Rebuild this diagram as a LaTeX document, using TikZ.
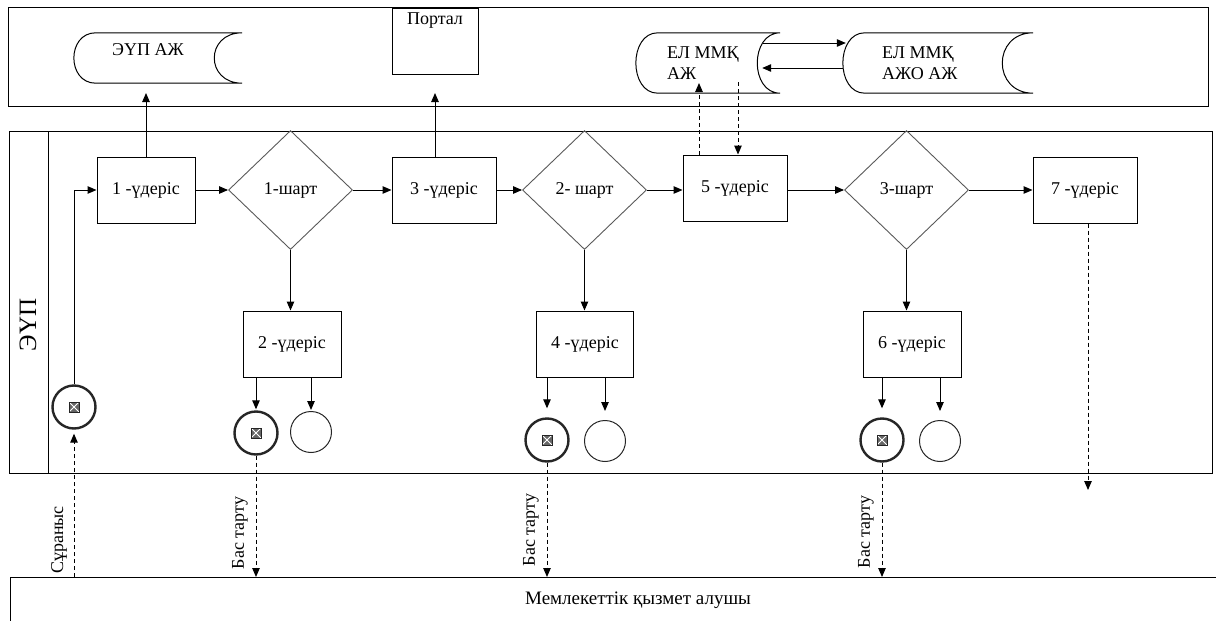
\documentclass[tikz,border=0pt]{standalone}
\usepackage{fontspec}
\setmainfont{Liberation Serif}
\usetikzlibrary{shapes.geometric,arrows.meta,calc}
\newcommand\fs{\fontsize{18}{21}\selectfont}
\newcommand\dstore[3]{%
  \draw[line] ($(#1.north west)+(#2,0)$) -- (#1.north east)
    .. controls ($(#1.north east)+(-1.33*#3,0)$) and ($(#1.south east)+(-1.33*#3,0)$) .. (#1.south east)
    -- ($(#1.south west)+(#2,0)$)
    .. controls ($(#1.south west)+(-0.33*#2,0)$) and ($(#1.north west)+(-0.33*#2,0)$) .. ($(#1.north west)+(#2,0)$) -- cycle;}
\begin{document}
\begin{tikzpicture}[x=1pt,y=-1pt,
  line/.style={line width=1pt,draw=black},
  arr/.style={line width=1pt,-{Triangle[length=9pt,width=7.5pt]}},
  darr/.style={arr,dash pattern=on 4pt off 3pt},
  proc/.style={draw,line width=1pt,rectangle,minimum height=66pt,inner sep=2pt,font=\fs},
  cond/.style={draw=black!65,line width=0.9pt,diamond,minimum width=124pt,minimum height=119pt,inner sep=0pt,font=\fs},
  endx/.style={circle,draw=black!85,line width=2.4pt,minimum size=43pt,inner sep=0pt},
  endo/.style={circle,draw=black!85,line width=1pt,minimum size=41pt,inner sep=0pt},
  xsq/.style={draw=black!85,line width=0.6pt,fill=black!60,minimum size=10pt,inner sep=0pt,
    path picture={\draw[white,line width=0.9pt] (path picture bounding box.south west) -- (path picture bounding box.north east)
      (path picture bounding box.north west) -- (path picture bounding box.south east);}},
  store/.style={inner sep=0pt},
  lbl/.style={font=\fs,inner sep=0pt},
]
\useasboundingbox (0,0) rectangle (1216,621);
% frames
\draw[line] (8,7) rectangle (1208,106);
\draw[line] (9,131) rectangle (1212,473);
\draw[line] (48,131) -- (48,473);
\draw[line] (10,621) -- (10,577) -- (1216,577);
\coordinate (cltop) at (0,577);
\node[font=\fontsize{25}{30}\selectfont,rotate=90,inner sep=0pt] (lane) at (28,325) {ЭҮП};
\node[font=\fontsize{19}{22}\selectfont,inner sep=0pt] (client) at (638,600) {Мемлекеттік қызмет алушы};

% top stores
\node[store,minimum width=168pt,minimum height=50pt] (eup) at (158,58) {};
\dstore{eup}{22}{28}
\node[lbl] (eupt) at (148,50) {ЭҮП АЖ};
\node[draw,line width=1pt,minimum width=86pt,minimum height=66pt,inner sep=0pt] (portal) at (435,41) {};
\node[lbl] (portalt) at (435,21) {Портал};
\node[store,minimum width=144pt,minimum height=60pt] (el) at (708,63) {};
\dstore{el}{22}{23}
\node[lbl,align=left,anchor=west] (elt) at (667,63) {ЕЛ ММҚ\\АЖ};
\node[store,minimum width=190pt,minimum height=60pt] (elo) at (938,63) {};
\dstore{elo}{22}{31}
\node[lbl,align=left,anchor=west] (elot) at (882,63) {ЕЛ ММҚ\\АЖО АЖ};
\draw[arr] ($(el.east)+(-17,-20)$) -- ($(elo.west)+(3,-20)$);
\draw[arr] ($(elo.west)+(0,5)$) -- ($(el.east)+(-18,5)$);

% main flow
\node[proc,minimum width=98pt] (p1) at (146,190) {1 -үдеріс};
\node[cond] (d1) at (290.5,190) {1-шарт};
\node[proc,minimum width=104pt] (p3) at (444,190) {3 -үдеріс};
\node[cond] (d2) at (584.5,190) {2- шарт};
\node[proc,minimum width=104pt] (p5) at (735,188) {5 -үдеріс};
\node[cond] (d3) at (906.5,190) {3-шарт};
\node[proc,minimum width=104pt] (p7) at (1085,190) {7 -үдеріс};
\node[proc,minimum width=98pt] (p2) at (292,344) {2 -үдеріс};
\node[proc,minimum width=97pt] (p4) at (585,344) {4 -үдеріс};
\node[proc,minimum width=98pt] (p6) at (912,344) {6 -үдеріс};

\draw[arr] (p1) -- (d1);
\draw[arr] (d1) -- (p3);
\draw[arr] (p3) -- (d2);
\draw[arr] (d2.east) -- (d2.east -| p5.west);
\draw[arr] (p5.east |- d3.west) -- (d3.west);
\draw[arr] (d3) -- (p7);
\draw[arr] (d1.south) -- (d1.south |- p2.north);
\draw[arr] (d2.south) -- (d2.south |- p4.north);
\draw[arr] (d3.south) -- (d3.south |- p6.north);

% links to top
\coordinate (eupin) at (146,93);
\draw[arr] (p1.north) -- (eupin);
\coordinate (portin) at (435,93);
\draw[arr] (p3.north -| portin) -- (portin);
\coordinate (elin) at (699,83);
\draw[darr] (p5.north -| elin) -- (elin);
\coordinate (elout) at (738,82);
\draw[darr] (elout) -- (elout |- p5.north);
\coordinate (p7out) at (1088,490);
\draw[darr] (p7.south -| p7out) -- (p7out);

% events
\node[endx] (cs) at (74,407) {};
\node[xsq] (csx) at (cs) {};
\draw[arr] (cs.north) |- (p1.west);
\draw[darr,shorten >=4pt] (cs.south |- cltop) -- (cs.south);
\node[lbl,rotate=90] (lreq) at (59,540) {Сұраныс};

\node[endx] (c2x) at (256,433) {};
\node[xsq] (c2s) at (c2x) {};
\node[endo] (c2o) at (311,432) {};
\node[endx] (c4x) at (547,440) {};
\node[xsq] (c4s) at (c4x) {};
\node[endo] (c4o) at (605,441) {};
\node[endx] (c6x) at (882,440) {};
\node[xsq] (c6s) at (c6x) {};
\node[endo] (c6o) at (940,441) {};

\draw[arr,shorten >=1pt] (p2.south -| c2x) -- (c2x.north);
\draw[arr,shorten >=1pt] (p2.south -| c2o) -- (c2o.north);
\draw[arr,shorten >=9pt] (p4.south -| c4x) -- (c4x.north);
\draw[arr,shorten >=9pt] (p4.south -| c4o) -- (c4o.north);
\draw[arr,shorten >=9pt] (p6.south -| c6x) -- (c6x.north);
\draw[arr,shorten >=9pt] (p6.south -| c6o) -- (c6o.north);

\draw[darr] (c2x.south) -- (c2x.south |- cltop);
\draw[darr] (c4x.south) -- (c4x.south |- cltop);
\draw[darr] (c6x.south) -- (c6x.south |- cltop);
\node[lbl,rotate=90] (lr2) at (240,533) {Бас тарту};
\node[lbl,rotate=90] (lr4) at (531,530) {Бас тарту};
\node[lbl,rotate=90] (lr6) at (866,532) {Бас тарту};
\end{tikzpicture}
\end{document}
